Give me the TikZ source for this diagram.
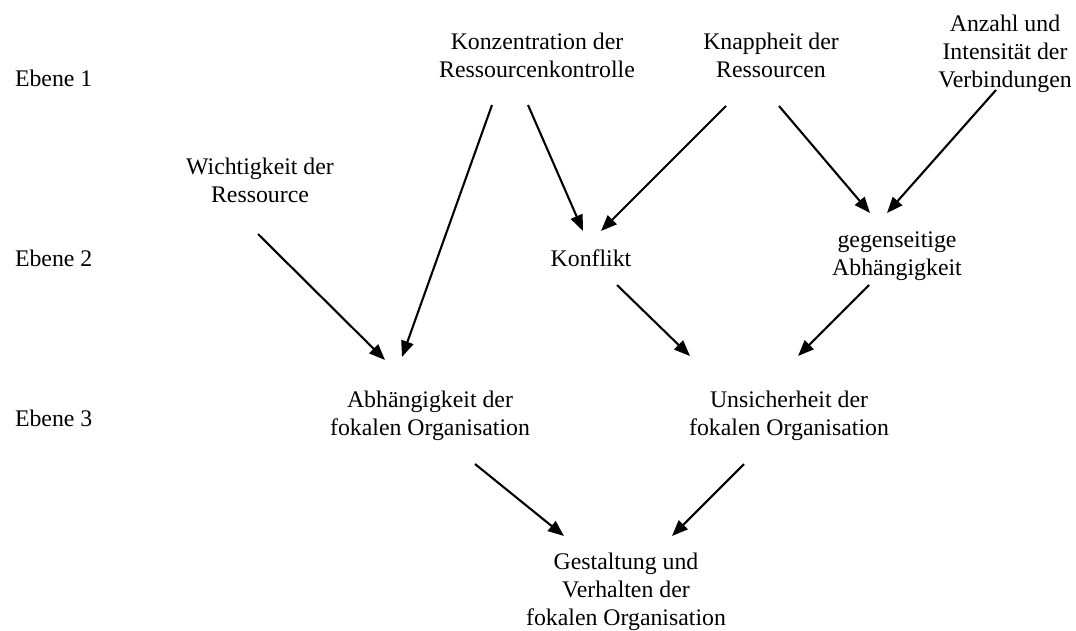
\documentclass[tikz,border=0pt]{standalone}
\usepackage{fontspec}
\setmainfont{Liberation Serif}
\usepackage{tikz}
\usetikzlibrary{arrows.meta}

\begin{document}
\begin{tikzpicture}[x=1pt,y=-1pt,line width=2.1pt,
    >={Triangle[length=16pt,width=12.5pt]},
    every node/.style={font=\fontsize{23.8}{28}\selectfont,align=center,inner sep=0pt,anchor=base},
    level/.style={anchor=base west}]
    \useasboundingbox (0,0) rectangle (1076,630);
    % levels
    \node[level] (e_1) at (14,86)  {Ebene 1};
    \node[level] (e_2) at (14,266) {Ebene 2};
    \node[level] (e_3) at (14,426) {Ebene 3};
    % level 1
    \node (konz)   at (537,77)  {Konzentration der\\Ressourcenkontrolle};
    \node (knapp)  at (771,77)  {Knappheit der\\Ressourcen};
    \node (anzahl) at (1005,87) {Anzahl und\\Intensität der\\Verbindungen};
    \node (wicht)  at (260,202) {Wichtigkeit der\\Ressource};
    % level 2
    \node (konfl)  at (591,266) {Konflikt};
    \node (gegens) at (897,275) {gegenseitige\\Abhängigkeit};
    % level 3
    \node (abh)    at (430,435) {Abhängigkeit der\\fokalen Organisation};
    \node (unsich) at (789,435) {Unsicherheit der\\fokalen Organisation};
    \node (gest)   at (626,625) {Gestaltung und\\Verhalten der\\fokalen Organisation};
    \path[->]
    % edges into level 2
    ([shift={(-9,28)}]konz.base)   edge ([shift={(-8,-35)}]konfl.base)
    ([shift={(-45,29)}]knapp.base) edge ([shift={(10,-35)}]konfl.base)
    ([shift={(8,29)}]knapp.base)   edge ([shift={(-27,-62)}]gegens.base)
    ([shift={(-9,3)}]anzahl.base)  edge ([shift={(-10,-62)}]gegens.base)
    % edges into level 3
    ([shift={(-2,32)}]wicht.base)  edge ([shift={(-45,-75)}]abh.base)
    ([shift={(-45,28)}]konz.base)  edge ([shift={(-28,-78)}]abh.base)
    ([shift={(26,19)}]konfl.base)  edge ([shift={(-99,-79)}]unsich.base)
    ([shift={(-28,10)}]gegens.base) edge ([shift={(9,-79)}]unsich.base)
    % final edges
    ([shift={(45,29)}]abh.base)    edge ([shift={(-62,-89)}]gest.base)
    ([shift={(-45,29)}]unsich.base) edge ([shift={(46,-89)}]gest.base);
\end{tikzpicture}
\end{document}
